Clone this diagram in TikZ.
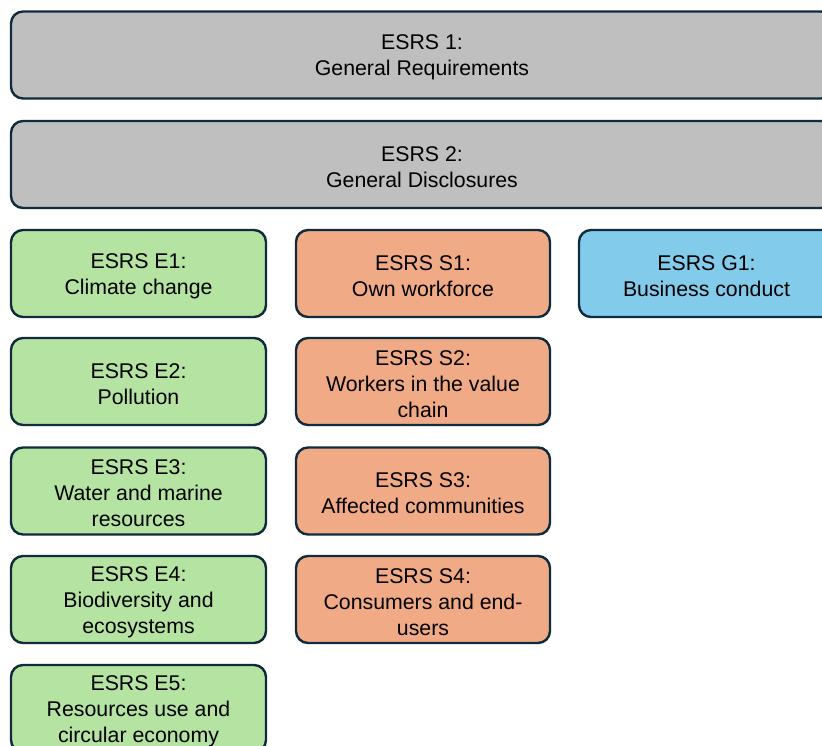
\documentclass[tikz,border=0pt]{standalone}
\usepackage{fontspec}
\setmainfont{Liberation Sans}
\definecolor{edge}{HTML}{0F2B3C}
\definecolor{greyfill}{HTML}{BFBFBF}
\definecolor{envfill}{HTML}{B4E3A2}
\definecolor{socfill}{HTML}{F1AA86}
\definecolor{govfill}{HTML}{83CBEB}
\tikzset{
  esrs/.style={draw=edge, line width=2.4pt, rounded corners=12pt,
    minimum height=87pt, inner sep=0pt},
  wide/.style={esrs, fill=greyfill, minimum width=822pt},
  env/.style={esrs, fill=envfill, minimum width=255pt},
  soc/.style={esrs, fill=socfill, minimum width=254pt},
  gov/.style={esrs, fill=govfill, minimum width=255pt},
  caption/.style={align=center, text=black, inner sep=0pt, yshift=-2.5pt,
    font=\fontsize{21.3}{26}\selectfont},
}
\begin{document}
\begin{tikzpicture}[x=1pt,y=-1pt]
  \useasboundingbox (0,0) rectangle (822,746);
  \clip (0,0) rectangle (822,746);
  \fill[white] (0,0) rectangle (822,746);
  % cross-cutting standards
  \node[wide] (esrs1) at (422,55) {};
  \node[caption] at (esrs1) {ESRS 1:\\General Requirements};
  \node[wide] (esrs2) at (422,164.5) {};
  \node[caption] at (esrs2) {ESRS 2:\\General Disclosures};
  % environmental
  \node[env] (e1) at (138.5,273.5) {};
  \node[caption] at (e1) {ESRS E1:\\Climate change};
  \node[env] (e2) at (138.5,381.5) {};
  \node[caption] at (e2) {ESRS E2:\\Pollution};
  \node[env] (e3) at (138.5,491) {};
  \node[caption] at (e3) {ESRS E3:\\Water and marine\\resources};
  \node[env] (e4) at (138.5,599.5) {};
  \node[caption] at (e4) {ESRS E4:\\Biodiversity and\\ecosystems};
  \node[env] (e5) at (138.5,708.5) {};
  \node[caption] at (e5) {ESRS E5:\\Resources use and\\circular economy};
  % social
  \node[soc] (s1) at (423,273.5) {};
  \node[caption] at (s1) {ESRS S1:\\Own workforce};
  \node[soc] (s2) at (423,381.5) {};
  \node[caption] at (s2) {ESRS S2:\\Workers in the value\\chain};
  \node[soc] (s3) at (423,491) {};
  \node[caption] at (s3) {ESRS S3:\\Affected communities};
  \node[soc] (s4) at (423,599.5) {};
  \node[caption] at (s4) {ESRS S4:\\Consumers and end-\\users};
  % governance
  \node[gov] (g1) at (706.5,273.5) {};
  \node[caption] at (g1) {ESRS G1:\\Business conduct};
\end{tikzpicture}
\end{document}
